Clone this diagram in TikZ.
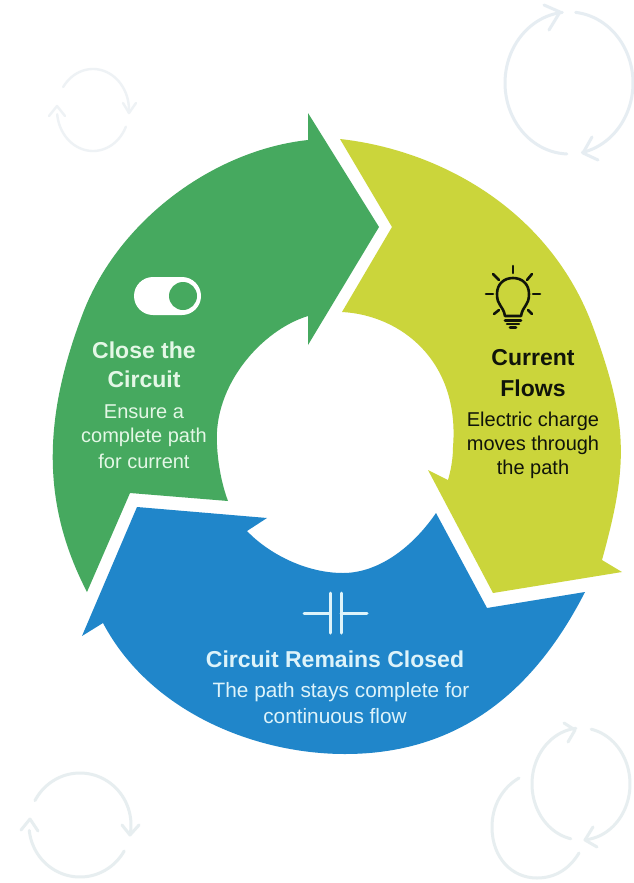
\documentclass[tikz,border=0pt]{standalone}
\usepackage{fontspec}
\setmainfont{Liberation Sans}
\definecolor{gr}{HTML}{46A95F}
\definecolor{yl}{HTML}{CBD53B}
\definecolor{bl}{HTML}{2086CA}
\definecolor{grt}{HTML}{E4F7E6}
\definecolor{blt}{HTML}{DDF3FA}
\definecolor{ylt}{HTML}{10140A}
\definecolor{bga}{HTML}{E6EDF2}
\definecolor{bgb}{HTML}{E7EEF0}
\definecolor{bgc}{HTML}{EEF2F5}
\tikzset{
  head/.style={font=\fontsize{23}{27}\selectfont\bfseries,inner sep=0pt,anchor=center},
  body/.style={font=\fontsize{20}{24}\selectfont,inner sep=0pt,anchor=center},
  bodyw/.style={font=\fontsize{20.8}{24}\selectfont,inner sep=0pt,anchor=center},
  bgline/.style={line width=3pt,line cap=round,line join=round},
  icon/.style={line cap=round,line join=round}
}
\newcommand{\ellarc}[6]{plot[domain=#5:#6,samples=50,smooth] ({#1+#3*cos(\x)},{#2+#4*sin(\x)})}
\begin{document}
\begin{tikzpicture}[x=1pt,y=-1pt]
\useasboundingbox (0,0) rectangle (634,883);
\fill[white] (0,0) rectangle (634,883);
% background cycles
\begin{scope}[bgline,bga]
\draw \ellarc{569}{83}{64}{71}{92}{264};
\draw \ellarc{569}{83}{64}{71}{-84}{78};
\draw (544,5) -- (560,12) -- (549,30);
\draw (592,137) -- (583,153) -- (598,160);
\end{scope}
\begin{scope}[bgline,bgb]
\draw \ellarc{581}{784}{49}{56}{102}{264};
\draw \ellarc{581}{784}{49}{56}{-78}{85};
\draw (564,723) -- (575,730) -- (568,742);
\draw (593,827) -- (585,840) -- (597,847);
\draw (519,778) .. controls (502,788) and (492,806) .. (492,827)
  .. controls (492,858) and (512,878) .. (537,878)
  .. controls (556,878) and (570,868) .. (579,853);
\draw \ellarc{80}{825}{51}{52}{-152}{8};
\draw \ellarc{80}{825}{51}{52}{30}{174};
\draw (122,825) -- (130,835) -- (139,825);
\draw (21,830) -- (30,819) -- (38,831);
\end{scope}
\begin{scope}[bgline,bgc,line width=2.4pt]
\draw \ellarc{93}{110}{36}{41}{-146}{4};
\draw \ellarc{93}{110}{36}{41}{24}{174};
\draw (123,103) -- (129,113) -- (136,103);
\draw (49,116) -- (57,106) -- (65,116);
\end{scope}
% green arrow
\fill[gr] (308,113) -- (379,227) -- (308,345) -- (308,316)
  .. controls (262,330) and (213,385) .. (217,445)
  .. controls (218,465) and (222,485) .. (228,501)
  -- (130,493) -- (87,592)
  .. controls (42,505) and (42,420) .. (83,313)
  .. controls (119,219) and (215,150) .. (308,140)
  -- cycle;
% yellow arrow
\fill[yl] (340,139) -- (392,227) -- (342,312)
  .. controls (400,315) and (460,360) .. (453,447)
  .. controls (453,458) and (451,470) .. (448,480)
  -- (428,470) -- (493,593) -- (622,572) -- (602,560)
  .. controls (628,466) and (629,425) .. (593,327)
  .. controls (550,210) and (440,150) .. (340,139)
  -- cycle;
% blue arrow
\fill[bl] (137,507) -- (267,518) -- (247,531)
  .. controls (268,553) and (305,573) .. (343,573)
  .. controls (378,573) and (412,548) .. (436,513)
  -- (487,608) -- (585,592)
  .. controls (535,690) and (460,754) .. (345,754)
  .. controls (255,754) and (150,712) .. (103,623)
  -- (82,636) -- cycle;
% toggle
\fill[white,rounded corners=19pt] (134,277) rectangle (201,315);
\fill[gr] (183,296) circle[radius=14];
% bulb
\begin{scope}[icon,draw=ylt,line width=2.6pt]
\draw (505,316) .. controls (503,305) and (497,306) .. (497,294)
  .. controls (497,284) and (504,278) .. (513,278)
  .. controls (522,278) and (529,284) .. (529,294)
  .. controls (529,306) and (523,305) .. (521,316) -- cycle;
\draw (505,320.5) -- (521,320.5);
\draw (507,324) -- (519,324);
\draw (510,327.5) -- (516,327.5);
\draw (513,266) -- (513,273);
\draw (493,274) -- (499,280);
\draw (532,274) -- (527,280);
\draw (486,294) -- (493,294);
\draw (533,294) -- (540,294);
\draw (494,314) -- (499,310);
\draw (532,314) -- (528,310);
\end{scope}
% capacitor
\begin{scope}[icon,draw=blt,line width=3pt]
\draw (304,613) -- (330,613);
\draw (330,593) -- (330,633);
\draw (341,593) -- (341,633);
\draw (341,613) -- (367,613);
\end{scope}
% texts
\node[head,text=grt] (t1) at (144,350) {Close the};
\node[head,text=grt] (t2) at (144,379) {Circuit};
\node[body,text=grt] (t3) at (144,412) {Ensure a};
\node[body,text=grt] (t4) at (144,437) {complete path};
\node[body,text=grt] (t5) at (144,461) {for current};
\node[head,text=ylt] (t6) at (533,358) {Current};
\node[head,text=ylt] (t7) at (533,388) {Flows};
\node[body,text=ylt] (t8) at (533,421) {Electric charge};
\node[body,text=ylt] (t9) at (533,445) {moves through};
\node[body,text=ylt] (t10) at (533,469) {the path};
\node[head,text=blt] (t11) at (335,659) {Circuit Remains Closed};
\node[bodyw,text=blt] (t12) at (341,692) {The path stays complete for};
\node[bodyw,text=blt] (t13) at (335,716) {continuous flow};
\end{tikzpicture}
\end{document}
